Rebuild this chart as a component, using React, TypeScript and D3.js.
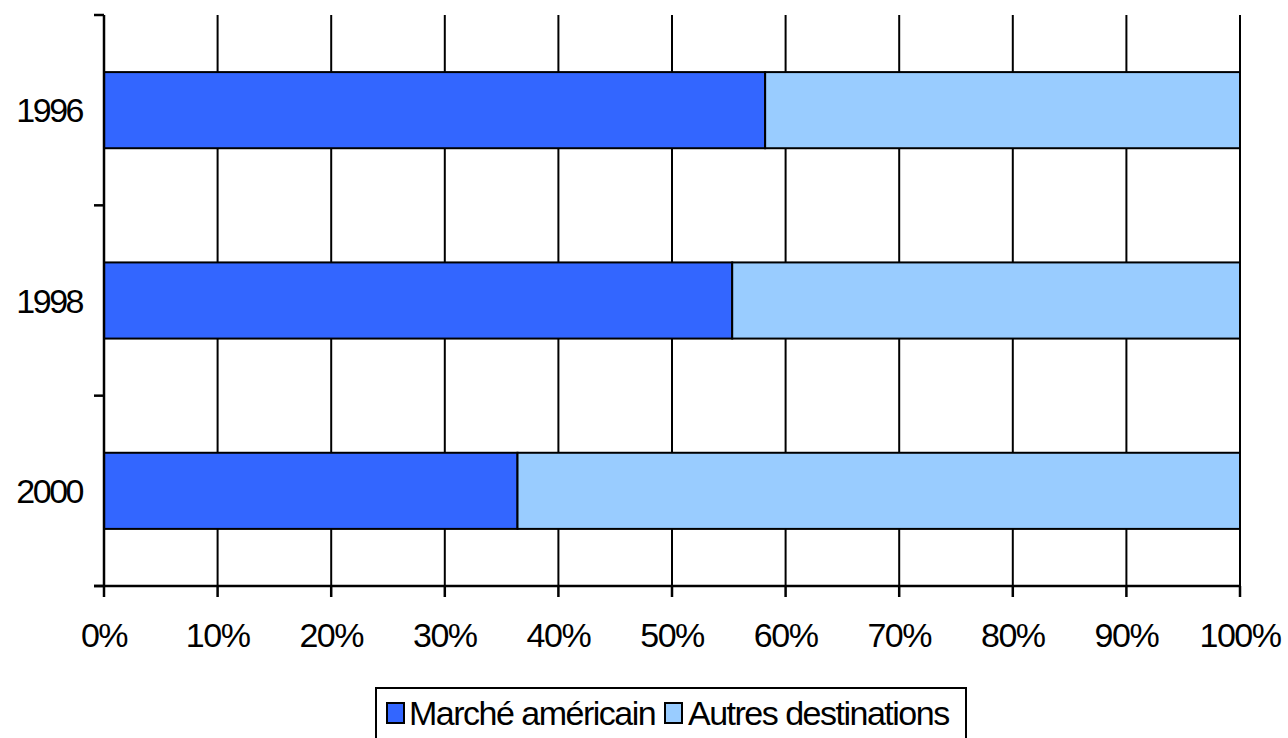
import React from 'react';
import * as d3 from 'd3';

// years shown on the vertical axis
const years = ['1996', '1998', '2000'];
// share of the US market (fraction), the rest goes to other destinations
const americain = [0.582, 0.553, 0.364];
const autres = americain.map(v => 1 - v);
const seriesNames = ['Marché américain', 'Autres destinations'];
const seriesColors = ['#3366FF', '#99CCFF'];
const xTicks = [0, 0.1, 0.2, 0.3, 0.4, 0.5, 0.6, 0.7, 0.8, 0.9, 1];

const W = 1288;
const H = 738;
const left = 104;
const right = 1240;
const top = 15;
const bottom = 586;

const font = '"Liberation Sans", Arial, Helvetica, sans-serif';

const App = () => {
  const x = d3.scaleLinear().domain([0, 1]).range([left, right]);
  const y = d3.scaleBand().domain(years).range([top, bottom]).paddingInner(0).paddingOuter(0);
  const barH = y.bandwidth() * 0.4;

  // stack the two series
  const rows = years.map((yr, i) => ({ year: yr, a: americain[i], b: autres[i] }));
  const stacked = d3.stack<any>().keys(['a', 'b'])(rows);

  const yTickPos = [top, ...years.map(yr => (y(yr) as number) + y.bandwidth())];

  return (
    <svg width={W} height={H} style={{ display: 'block', position: 'absolute', left: 0, top: 0 }}>
      <rect width={W} height={H} fill="white" />

      {/* vertical gridlines */}
      {xTicks.slice(1).map(t => (
        <line key={'g' + t} x1={x(t)} x2={x(t)} y1={top} y2={bottom} stroke="#000" strokeWidth={2} />
      ))}

      {/* bars */}
      {stacked.map((s, si) => (
        <g key={si}>
          {s.map((d, i) => (
            <rect
              key={i}
              x={x(d[0])}
              width={x(d[1]) - x(d[0])}
              y={(y(years[i]) as number) + (y.bandwidth() - barH) / 2}
              height={barH}
              fill={seriesColors[si]}
              stroke="#000"
              strokeWidth={2}
            />
          ))}
        </g>
      ))}

      {/* axes */}
      <line x1={left} x2={left} y1={top} y2={bottom} stroke="#000" strokeWidth={2.5} />
      <line x1={left - 10} x2={right} y1={bottom} y2={bottom} stroke="#000" strokeWidth={2.5} />
      {yTickPos.map((p, i) => (
        <line key={'yt' + i} x1={left - 10} x2={left} y1={p} y2={p} stroke="#000" strokeWidth={2.5} />
      ))}
      {xTicks.map(t => (
        <line key={'xt' + t} x1={x(t)} x2={x(t)} y1={bottom} y2={bottom + 11} stroke="#000" strokeWidth={2.5} />
      ))}

      {/* tick labels */}
      {xTicks.map(t => (
        <text
          key={'xl' + t}
          x={x(t)}
          y={647}
          textAnchor="middle"
          fontFamily={font}
          fontSize={34}
          letterSpacing={-1.5}
        >
          {d3.format('.0%')(t)}
        </text>
      ))}
      {years.map(yr => (
        <text
          key={'yl' + yr}
          x={82}
          y={(y(yr) as number) + y.bandwidth() / 2 + 12}
          textAnchor="end"
          fontFamily={font}
          fontSize={34}
          letterSpacing={-2.5}
        >
          {yr}
        </text>
      ))}

      {/* legend */}
      <rect x={376} y={688} width={590} height={60} fill="white" stroke="#000" strokeWidth={2} />
      <rect x={387} y={703} width={17} height={20} fill={seriesColors[0]} stroke="#000" strokeWidth={2} />
      <text x={409} y={725} fontFamily={font} fontSize={34} letterSpacing={-1.5}>{seriesNames[0]}</text>
      <rect x={665} y={703} width={17} height={20} fill={seriesColors[1]} stroke="#000" strokeWidth={2} />
      <text x={688} y={725} fontFamily={font} fontSize={34} letterSpacing={-1.5}>{seriesNames[1]}</text>
    </svg>
  );
};

export default App;
